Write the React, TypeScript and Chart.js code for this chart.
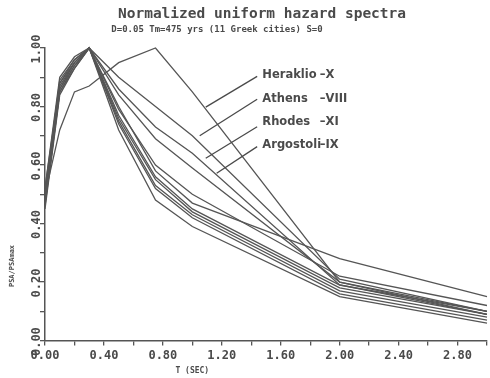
import React, { useEffect, useRef } from "react";
import { Chart, registerables } from "chart.js";

Chart.register(...registerables);

// Periods T (sec)
const periods = [0, 0.1, 0.2, 0.3, 0.5, 0.75, 1.0, 2.0, 3.0];

// Normalized PSA/PSAmax for 11 Greek cities
const heraklio = [0.5, 0.72, 0.85, 0.87, 0.95, 1.0, 0.85, 0.2, 0.09];
const athens = [0.52, 0.88, 0.95, 1.0, 0.9, 0.8, 0.7, 0.21, 0.1];
const rhodes = [0.48, 0.86, 0.94, 1.0, 0.86, 0.73, 0.64, 0.19, 0.09];
const argostoli = [0.47, 0.85, 0.93, 1.0, 0.84, 0.69, 0.59, 0.2, 0.1];
const city5 = [0.5, 0.88, 0.96, 1.0, 0.8, 0.58, 0.47, 0.28, 0.15];
const city6 = [0.52, 0.9, 0.97, 1.0, 0.79, 0.6, 0.5, 0.22, 0.12];
const city7 = [0.48, 0.87, 0.95, 1.0, 0.77, 0.56, 0.45, 0.19, 0.1];
const city8 = [0.46, 0.85, 0.94, 1.0, 0.76, 0.55, 0.44, 0.18, 0.09];
const city9 = [0.5, 0.89, 0.96, 1.0, 0.75, 0.53, 0.43, 0.17, 0.08];
const city10 = [0.47, 0.86, 0.95, 1.0, 0.74, 0.52, 0.42, 0.16, 0.07];
const city11 = [0.45, 0.84, 0.93, 1.0, 0.72, 0.48, 0.39, 0.15, 0.06];

const allSeries = [heraklio, athens, rhodes, argostoli, city5, city6, city7, city8, city9, city10, city11];

const yTickLabels = [0, 0.2, 0.4, 0.6, 0.8, 1.0];

// Annotation labels (data coordinates)
const annNames = ["Heraklio", "Athens", "Rhodes", "Argostoli"];
const annSuffix = ["\u2013X", "\u2013VIII", "\u2013XI", "\u2013IX"];
const annLabelY = [0.909, 0.825, 0.747, 0.67];
const annLabelX = 1.475;
const annSuffixX = 1.865;
const annFromX = 1.44;
const annFromY = [0.903, 0.825, 0.731, 0.663];
const annToX = [1.091, 1.05, 1.091, 1.165];
const annToY = [0.798, 0.7, 0.623, 0.572];

const titleText = "Normalized uniform hazard spectra";
const subtitleText = "D=0.05 Tm=475 yrs (11 Greek cities) S=0";
const xTitle = "T (SEC)";
const yTitle = "PSA/PSAmax";

const INK = "#4a4a4a";
const MONO = '"DejaVu Sans Mono", monospace';

export default function App() {
  const ref = useRef<HTMLCanvasElement>(null);
  useEffect(() => {
    document.body.style.margin = "0";
    const textPlugin = {
      id: "texts",
      afterDraw(chart: any) {
        const ctx = chart.ctx;
        const xs = chart.scales.x;
        const ys = chart.scales.y;
        ctx.save();
        ctx.fillStyle = INK;
        // titles
        ctx.textAlign = "center";
        ctx.textBaseline = "middle";
        ctx.font = `bold 14.5px ${MONO}`;
        ctx.fillText(titleText, 262, 14);
        ctx.font = `bold 9px ${MONO}`;
        ctx.fillText(subtitleText, 217, 30);
        // y tick labels rotated
        ctx.font = `bold 12px ${MONO}`;
        for (const v of yTickLabels) {
          const py = ys.getPixelForValue(v);
          ctx.save();
          ctx.translate(37, py + 1);
          ctx.rotate(-Math.PI / 2);
          ctx.fillText(v.toFixed(2), 0, 0);
          ctx.restore();
        }
        // y title
        ctx.save();
        ctx.font = `bold 7px ${MONO}`;
        ctx.translate(12, 266);
        ctx.rotate(-Math.PI / 2);
        ctx.fillText(yTitle, 0, 0);
        ctx.restore();
        // x title
        ctx.font = `bold 8px ${MONO}`;
        ctx.fillText(xTitle, xs.getPixelForValue(1.0), 371);
        // annotations
        ctx.strokeStyle = INK;
        ctx.lineWidth = 1.3;
        ctx.font = 'bold 11.5px "DejaVu Sans", sans-serif';
        ctx.textAlign = "left";
        for (let i = 0; i < annNames.length; i++) {
          ctx.beginPath();
          ctx.moveTo(xs.getPixelForValue(annFromX), ys.getPixelForValue(annFromY[i]));
          ctx.lineTo(xs.getPixelForValue(annToX[i]), ys.getPixelForValue(annToY[i]));
          ctx.stroke();
          const py = ys.getPixelForValue(annLabelY[i]);
          ctx.fillText(annNames[i], xs.getPixelForValue(annLabelX), py);
          ctx.fillText(annSuffix[i], xs.getPixelForValue(annSuffixX), py);
        }
        ctx.restore();
      },
    };
    const chart = new Chart(ref.current!, {
      type: "line",
      data: {
        datasets: allSeries.map((vals) => ({
          data: periods.map((t, i) => ({ x: t, y: vals[i] })),
          borderColor: "#555",
          borderWidth: 1.3,
          pointRadius: 0,
          tension: 0,
          clip: false as any,
        })),
      },
      options: {
        animation: false,
        responsive: false,
        layout: { padding: { left: 40, top: 48, right: 0, bottom: 12 } },
        plugins: { legend: { display: false }, tooltip: { enabled: false } },
        scales: {
          x: {
            type: "linear",
            min: 0,
            max: 3,
            ticks: {
              stepSize: 0.2,
              autoSkip: false,
              maxRotation: 0,
              padding: 3,
              color: INK,
              font: { family: MONO, size: 12, weight: "bold" },
              callback: (v: any) => (Math.round(Number(v) * 10) % 4 === 0 ? Number(v).toFixed(2) : ""),
            },
            grid: { drawOnChartArea: false, tickLength: 5, color: "#555", lineWidth: 1.3 },
            border: { color: "#555", width: 1.5 },
          },
          y: {
            type: "linear",
            min: 0,
            max: 1,
            ticks: { display: false, stepSize: 0.1 },
            grid: { drawOnChartArea: false, tickLength: 5, color: "#555", lineWidth: 1.3 },
            border: { color: "#555", width: 1.5 },
          },
        },
      },
      plugins: [textPlugin],
    });
    return () => chart.destroy();
  }, []);
  return <canvas ref={ref} width={490} height={378} style={{ display: "block" }} />;
}
